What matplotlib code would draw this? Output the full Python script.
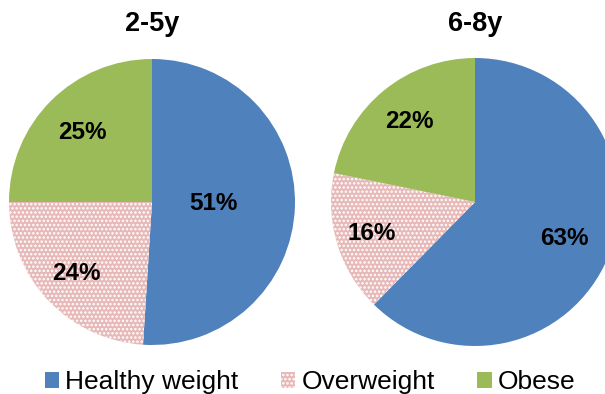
import numpy as np
import matplotlib
matplotlib.use("Agg")
import matplotlib.pyplot as plt
from matplotlib.patches import Patch

plt.rcParams['font.family'] = ['Liberation Sans', 'DejaVu Sans']
plt.rcParams['hatch.color'] = 'white'
plt.rcParams['hatch.linewidth'] = 1.2

categories = ['Healthy weight', 'Overweight', 'Obese']
groups = ['2-5y', '6-8y']
values_2_5 = [51, 24, 25]
values_6_8 = [63, 16, 22]
colors = ['#4F81BD', '#E6B9B8', '#9BBB59']

# label distance from centre (fraction of radius)
label_dist = [[0.43, 0.73, 0.69], [0.67, 0.75, 0.72]]

W, H = 605, 394
fig = plt.figure(figsize=(W / 100, H / 100), dpi=100)

# pie centres / radii in pixels
pies = [(152, 202, 143), (475, 202, 144)]

for i, (vals, (cx, cy, r)) in enumerate(zip([values_2_5, values_6_8], pies)):
    ax = fig.add_axes([(cx - r) / W, (H - cy - r) / H, 2 * r / W, 2 * r / H])
    wedges, _ = ax.pie(vals, colors=colors, startangle=90, counterclock=False,
                       wedgeprops=dict(linewidth=0))
    wedges[1].set_hatch('....')
    wedges[1].set_edgecolor('white')
    wedges[1].set_linewidth(0)
    for j, w in enumerate(wedges):
        ang = np.deg2rad((w.theta1 + w.theta2) / 2)
        d = label_dist[i][j]
        ax.text(d * np.cos(ang), d * np.sin(ang), f"{vals[j]}%",
                ha='center', va='center', fontsize=17.5, fontweight='bold')
    ax.set_xlim(-1, 1)
    ax.set_ylim(-1, 1)
    ax.set_aspect('auto')
    ax.axis('off')
    fig.text(cx / W, 1 - 24 / H, groups[i], ha='center', va='center',
             fontsize=19.5, fontweight='bold')

handles = [Patch(facecolor=colors[0], linewidth=0),
           Patch(facecolor=colors[1], hatch='....', edgecolor='white', linewidth=0),
           Patch(facecolor=colors[2], linewidth=0)]
fig.legend(handles, categories, loc='center', bbox_to_anchor=(310 / W, 1 - 382 / H),
           ncol=3, frameon=False, fontsize=19, handlelength=0.55, handleheight=0.55,
           handletextpad=0.23, columnspacing=1.6, borderpad=0)

fig.savefig('out.png', dpi=100)
